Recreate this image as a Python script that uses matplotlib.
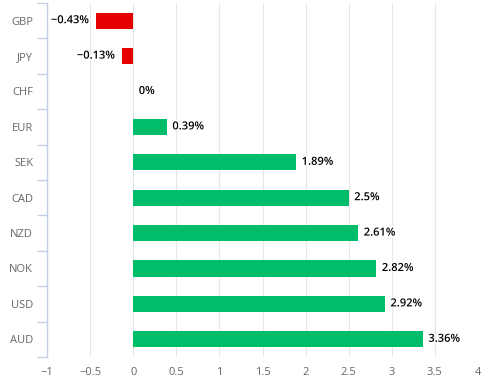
import numpy as np
import matplotlib
matplotlib.use("Agg")
import matplotlib.pyplot as plt
import matplotlib.patheffects as pe

plt.rcParams["font.family"] = ["Open Sans", "DejaVu Sans"]

currencies = ["GBP", "JPY", "CHF", "EUR", "SEK", "CAD", "NZD", "NOK", "USD", "AUD"]
changes = [-0.43, -0.13, 0.0, 0.39, 1.89, 2.5, 2.61, 2.82, 2.92, 3.36]
xticks = [-1, -0.5, 0, 0.5, 1, 1.5, 2, 2.5, 3, 3.5, 4]

W, H = 488, 382
fig = plt.figure(figsize=(W / 100, H / 100), dpi=100)
ax = fig.add_axes([47 / W, 25 / H, (478 - 47) / W, (357 - 3) / H])

pos = np.arange(len(currencies))
colors = ["#e60000" if v < 0 else "#00bd6b" for v in changes]
ax.barh(pos, changes, height=0.46, color=colors, zorder=3)

for y, v in zip(pos, changes):
    txt = "{:g}%".format(v).replace("-", "\u2212")
    off, ha = (-5, "right") if v < 0 else (4, "left")
    ax.annotate(txt, (v, y), xytext=(off, 0), textcoords="offset points",
                ha=ha, va="center", fontsize=8, fontweight="semibold",
                color="#000000", zorder=4,
                path_effects=[pe.withStroke(linewidth=2, foreground="white")])

ax.set_xlim(-1, 4)
ax.set_ylim(len(currencies) - 0.5, -0.5)
ax.set_xticks(xticks)
ax.set_xticklabels(["{:g}".format(t).replace("-", "\u2212") for t in xticks])
ax.set_yticks(pos)
ax.set_yticklabels(currencies)
ax.set_yticks(np.arange(-0.5, len(currencies), 1), minor=True)

ax.tick_params(axis="x", length=0, pad=7, labelsize=8, labelcolor="#666666")
ax.tick_params(axis="y", which="major", length=0, pad=10, labelsize=8, labelcolor="#666666")
ax.tick_params(axis="y", which="minor", length=7, width=1, color="#c4cfe6")

ax.grid(axis="x", color="#e6e6e6", linewidth=0.8, zorder=0)
for s in ["top", "right", "bottom"]:
    ax.spines[s].set_visible(False)
ax.spines["left"].set_color("#c4cfe6")
ax.spines["left"].set_linewidth(1)
ax.spines["left"].set_zorder(5)

fig.savefig("out.png", dpi=100)
